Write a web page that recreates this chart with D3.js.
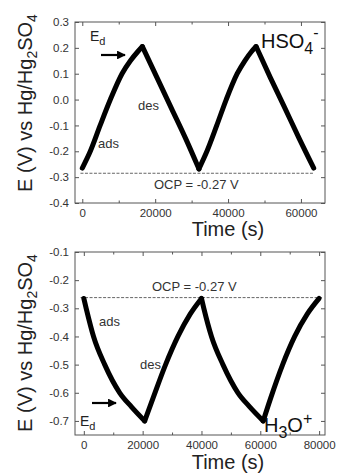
<!DOCTYPE html>
<html>
<head>
<meta charset="utf-8">
<script src="https://cdn.jsdelivr.net/npm/d3@7"></script>
<style>
  body { margin: 0; background: #fff; }
  text { font-family: "Liberation Sans", Arial, sans-serif; }
</style>
</head>
<body>
<div id="chart"></div>
<script>
// values
var topTime = [0, 2200, 4900, 7700, 10900, 13200, 15200, 16500,
               20500, 24500, 28500, 32000,
               34200, 36900, 39500, 42500, 44600, 46400, 47700,
               51600, 55500, 59500, 63500];
var topE = [-0.265, -0.2, -0.1, 0.0, 0.1, 0.15, 0.185, 0.205,
            0.085, -0.035, -0.155, -0.268,
            -0.2, -0.1, 0.0, 0.1, 0.15, 0.185, 0.205,
            0.085, -0.03, -0.15, -0.265];

var botTime = [0, 800, 3300, 7100, 12200, 16200, 20700,
               23500, 27800, 32000, 36200, 40000,
               40800, 43400, 47300, 52400, 56400, 61000,
               63500, 67600, 71700, 76000, 80000];
var botE = [-0.265, -0.3, -0.4, -0.5, -0.6, -0.65, -0.70,
            -0.62, -0.5, -0.4, -0.32, -0.265,
            -0.3, -0.4, -0.5, -0.6, -0.65, -0.70,
            -0.62, -0.5, -0.4, -0.32, -0.265];

var topYTicks = [-0.4, -0.3, -0.2, -0.1, 0.0, 0.1, 0.2, 0.3];
var botYTicks = [-0.7, -0.6, -0.5, -0.4, -0.3, -0.2, -0.1];
var topXTicks = [0, 20000, 40000, 60000];
var topXMinor = [10000, 30000, 50000];
var botXTicks = [0, 20000, 40000, 60000, 80000];
var botXMinor = [10000, 30000, 50000, 70000];

var topOCP = -0.285, botOCP = -0.262;
var ocpLabel = "OCP = -0.27 V";

var W = 338, H = 476;
var svg = d3.select("#chart").append("svg")
    .attr("width", W)
    .attr("height", H);

svg.append("defs").append("marker")
    .attr("id", "head")
    .attr("viewBox", "0 0 10 10")
    .attr("refX", 9).attr("refY", 5)
    .attr("markerWidth", 4).attr("markerHeight", 4)
    .attr("orient", "auto")
  .append("path")
    .attr("d", "M0,0L10,5L0,10z")
    .attr("fill", "#000");

// split a series into its rising / falling branches
function branches(time, E) {
    var out = [], cur = [[time[0], E[0]]];
    for (var i = 1; i < time.length; i++) {
        cur.push([time[i], E[i]]);
        if (i < time.length - 1 && (E[i] - E[i-1]) * (E[i+1] - E[i]) < 0) {
            out.push(cur);
            cur = [[time[i], E[i]]];
        }
    }
    out.push(cur);
    return out;
}

function panel(opt) {
    var x = d3.scaleLinear().domain(opt.xDomain).range([75, 325]);
    var y = d3.scaleLinear().domain(opt.yDomain).range([opt.bottom, opt.top]);
    var g = svg.append("g");

    function styleAxis(a) {
        a.select(".domain").remove();
        a.selectAll("line").attr("stroke", "#555");
        a.selectAll("text").attr("fill", "#333").style("font-size", "11.5px")
            .style("font-family", "'Liberation Sans', Arial, sans-serif");
    }

    g.append("g").attr("transform", "translate(0," + opt.bottom + ")")
        .call(d3.axisBottom(x).tickValues(opt.xTicks).tickSize(-4).tickPadding(6).tickFormat(String))
        .call(styleAxis);
    g.append("g").attr("transform", "translate(0," + opt.bottom + ")")
        .call(d3.axisBottom(x).tickValues(opt.xMinor).tickSize(-2.5).tickFormat(""))
        .call(styleAxis);
    g.append("g").attr("transform", "translate(0," + opt.top + ")")
        .call(d3.axisTop(x).tickValues(opt.xTicks).tickSize(-4).tickFormat(""))
        .call(styleAxis);
    g.append("g").attr("transform", "translate(0," + opt.top + ")")
        .call(d3.axisTop(x).tickValues(opt.xMinor).tickSize(-2.5).tickFormat(""))
        .call(styleAxis);
    g.append("g").attr("transform", "translate(75,0)")
        .call(d3.axisLeft(y).tickValues(opt.yTicks).tickSize(-4).tickPadding(6)
            .tickFormat(function(d) { return d.toFixed(1); }))
        .call(styleAxis);
    g.append("g").attr("transform", "translate(325,0)")
        .call(d3.axisRight(y).tickValues(opt.yTicks).tickSize(-4).tickFormat(""))
        .call(styleAxis);

    g.append("rect")
        .attr("x", 75).attr("y", opt.top)
        .attr("width", 250).attr("height", opt.bottom - opt.top)
        .attr("fill", "none").attr("stroke", "#555").attr("stroke-width", 1);

    // OCP line
    g.append("line")
        .attr("x1", x(opt.ocpFrom)).attr("x2", x(opt.ocpTo))
        .attr("y1", y(opt.ocp)).attr("y2", y(opt.ocp))
        .attr("stroke", "#666").attr("stroke-width", 1)
        .attr("stroke-dasharray", "3,1.5");

    var line = d3.line()
        .curve(d3.curveMonotoneX)
        .x(function(d) { return x(d[0]); })
        .y(function(d) { return y(d[1]); });
    g.append("g").selectAll("path")
        .data(branches(opt.time, opt.E))
        .enter().append("path")
        .attr("fill", "none")
        .attr("stroke", "#000")
        .attr("stroke-width", 5)
        .attr("stroke-linecap", "round")
        .attr("d", line);

    // axis titles
    g.append("text")
        .attr("x", 228).attr("y", opt.bottom + opt.xTitleDy)
        .attr("text-anchor", "middle")
        .attr("fill", "#222")
        .style("font-size", "20px")
        .text("Time (s)");

    var yt = g.append("text")
        .attr("transform", "translate(32," + opt.titleY + ") rotate(-90)")
        .attr("text-anchor", "middle")
        .attr("fill", "#222")
        .style("font-size", "20px");
    yt.append("tspan").text("E (V) vs Hg/Hg");
    yt.append("tspan").attr("dy", 5).style("font-size", "14px").text("2");
    yt.append("tspan").attr("dy", -5).text("SO");
    yt.append("tspan").attr("dy", 5).style("font-size", "14px").text("4");

    g.append("text").attr("x", opt.ocpX).attr("y", opt.ocpY)
        .attr("fill", "#333").style("font-size", "13px").text(ocpLabel);
    g.append("text").attr("x", opt.adsX).attr("y", opt.adsY)
        .attr("fill", "#333").style("font-size", "13px").text("ads");
    g.append("text").attr("x", opt.desX).attr("y", opt.desY)
        .attr("fill", "#333").style("font-size", "13px").text("des");

    var ed = g.append("text").attr("x", opt.edX).attr("y", opt.edY)
        .attr("fill", "#222").style("font-size", "14px");
    ed.append("tspan").text("E");
    ed.append("tspan").attr("dy", 4).style("font-size", "11px").text("d");

    g.append("line")
        .attr("x1", opt.arrow[0]).attr("x2", opt.arrow[1])
        .attr("y1", opt.arrow[2]).attr("y2", opt.arrow[2])
        .attr("stroke", "#000").attr("stroke-width", 2.2)
        .attr("marker-end", "url(#head)");

    var ion = g.append("text").attr("x", opt.ionX).attr("y", opt.ionY)
        .attr("fill", "#111").style("font-size", "20px");
    ion.append("tspan").text(opt.ion[0]);
    ion.append("tspan").attr("dy", 6).style("font-size", "16px").text(opt.ion[1]);
    if (opt.ion[2]) ion.append("tspan").attr("dy", -6).text(opt.ion[2]);
    ion.append("tspan").attr("dy", opt.ion[2] ? -8 : -16).style("font-size", "16px").text(opt.ion[3]);
}

panel({
    xDomain: [-2000, 66600], yDomain: [-0.4, 0.3], top: 22, bottom: 203,
    xTicks: topXTicks, xMinor: topXMinor, yTicks: topYTicks,
    time: topTime, E: topE,
    ocp: topOCP, ocpFrom: -500, ocpTo: 63500, ocpX: 154, ocpY: 189,
    adsX: 98, adsY: 148, desX: 138, desY: 110,
    edX: 90, edY: 41, arrow: [101, 125, 55],
    ionX: 261, ionY: 48, ion: ["HSO", "4", "", "-"],
    titleY: 103, xTitleDy: 33
});

panel({
    xDomain: [-3000, 82000], yDomain: [-0.75, -0.1], top: 252, bottom: 435,
    xTicks: botXTicks, xMinor: botXMinor, yTicks: botYTicks,
    time: botTime, E: botE,
    ocp: botOCP, ocpFrom: -1100, ocpTo: 81000, ocpX: 152, ocpY: 291,
    adsX: 99, adsY: 326, desX: 140, desY: 369,
    edX: 80, edY: 426, arrow: [92, 116, 403],
    ionX: 264, ionY: 432, ion: ["H", "3", "O", "+"],
    titleY: 343, xTitleDy: 34
});
</script>
</body>
</html>
